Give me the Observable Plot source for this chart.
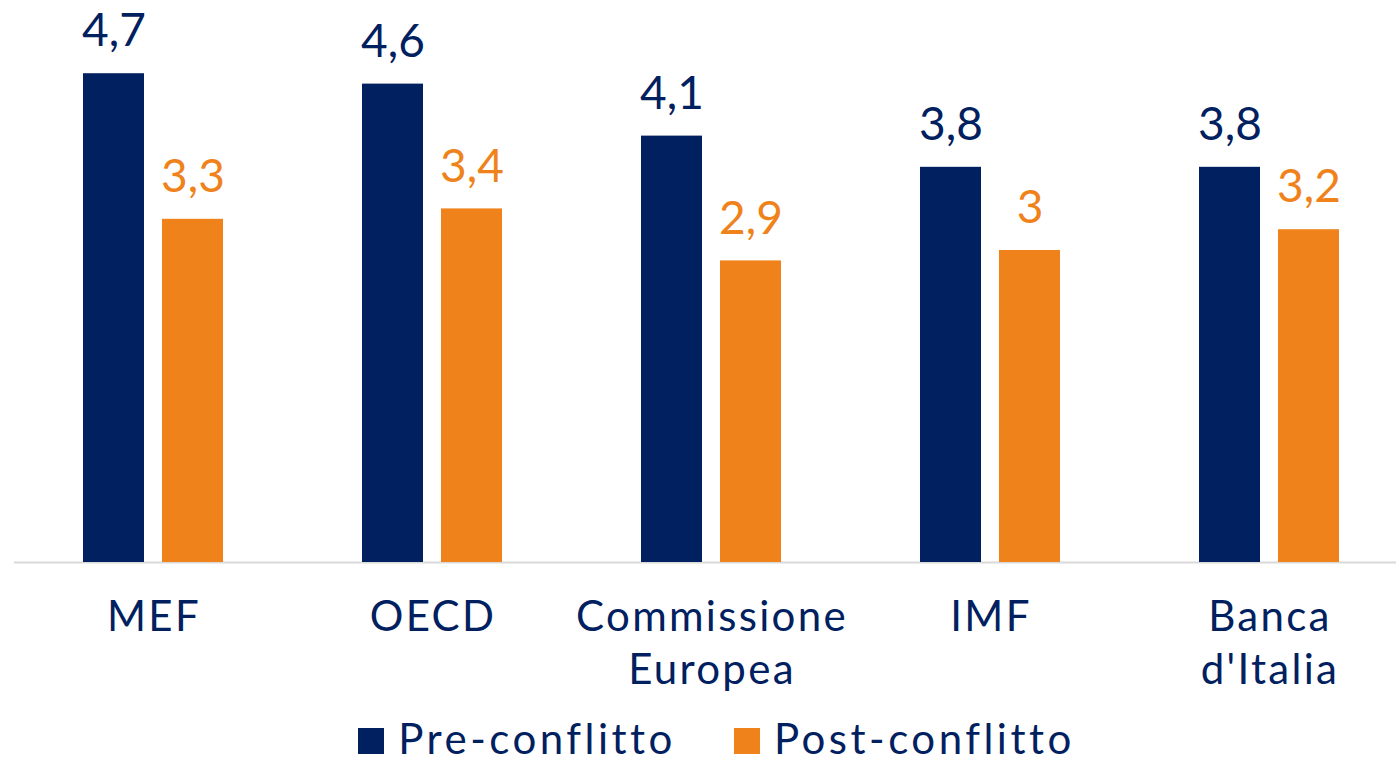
<!DOCTYPE html>
<html>
<head>
<meta charset="utf-8">
<script src="https://cdn.jsdelivr.net/npm/d3@7"></script>
<script src="https://cdn.jsdelivr.net/npm/@observablehq/plot@0.6"></script>
<style>
  html, body { margin: 0; padding: 0; background: #fff; width: 1396px; height: 765px; overflow: hidden; position: relative; }
  #chart svg { display: block; }
  #legend { position: absolute; left: 0; top: 717px; width: 1396px; height: 42px; display: flex; justify-content: center; align-items: center;
    padding-left: 37px; box-sizing: border-box;
    font-family: Lato, "Noto Sans", sans-serif; font-size: 42px; color: #002060; letter-spacing: 3.5px; }
  .item { display: flex; align-items: center; line-height: 42px; height: 42px; white-space: nowrap; }
  .item + .item { margin-left: 58px; }
  .sw { width: 26px; height: 26px; margin-right: 14px; margin-top: 6px; flex: none; }
</style>
</head>
<body>
<div id="chart"></div>
<div id="legend"></div>
<script>
const categories = ["MEF", "OECD", "Commissione\nEuropea", "IMF", "Banca\nd'Italia"];
const series = ["Pre-conflitto", "Post-conflitto"];
const preValues = [4.7, 4.6, 4.1, 3.8, 3.8];
const postValues = [3.3, 3.4, 2.9, 3.0, 3.2];
const colors = ["#002060", "#EF821A"];

const data = [];
categories.forEach((c, i) => {
  data.push({cat: c, series: series[0], value: preValues[i]});
  data.push({cat: c, series: series[1], value: postValues[i]});
});
const fmt = v => String(v).replace(".", ",");

const chart = Plot.plot({
  width: 1396,
  height: 700,
  marginTop: 0,
  marginLeft: 12,
  marginRight: -14,
  marginBottom: 138,
  style: {fontFamily: "Lato, 'Noto Sans', sans-serif", background: "#fff"},
  fx: {domain: categories, padding: 0, axis: null},
  x: {domain: series, paddingInner: 0.225, paddingOuter: 0.859, axis: null},
  y: {domain: [0, 5.404], axis: null},
  color: {domain: series, range: colors},
  marks: [
    Plot.ruleY([0], {stroke: "#d9d9d9", strokeWidth: 2}),
    Plot.barY(data, {fx: "cat", x: "series", y: "value", fill: "series"}),
    Plot.text(data, {fx: "cat", x: "series", y: "value", text: d => fmt(d.value), fill: "series",
      lineAnchor: "middle", dy: -42, fontSize: 46}),
    Plot.text(categories, {fx: d => d, text: d => d, frameAnchor: "bottom", lineAnchor: "top",
      dy: 32, fontSize: 42, lineHeight: 1.24, fill: "#002060", className: "cat"})
  ]
});
document.getElementById("chart").appendChild(chart);
chart.querySelectorAll(".cat text, text.cat").forEach(t => t.style.letterSpacing = "2.3px");

const legend = document.getElementById("legend");
series.forEach((s, i) => {
  const it = document.createElement("div");
  it.className = "item";
  const sw = document.createElement("span");
  sw.className = "sw";
  sw.style.background = colors[i];
  const t = document.createElement("span");
  t.textContent = s;
  it.appendChild(sw);
  it.appendChild(t);
  legend.appendChild(it);
});
</script>
</body>
</html>
